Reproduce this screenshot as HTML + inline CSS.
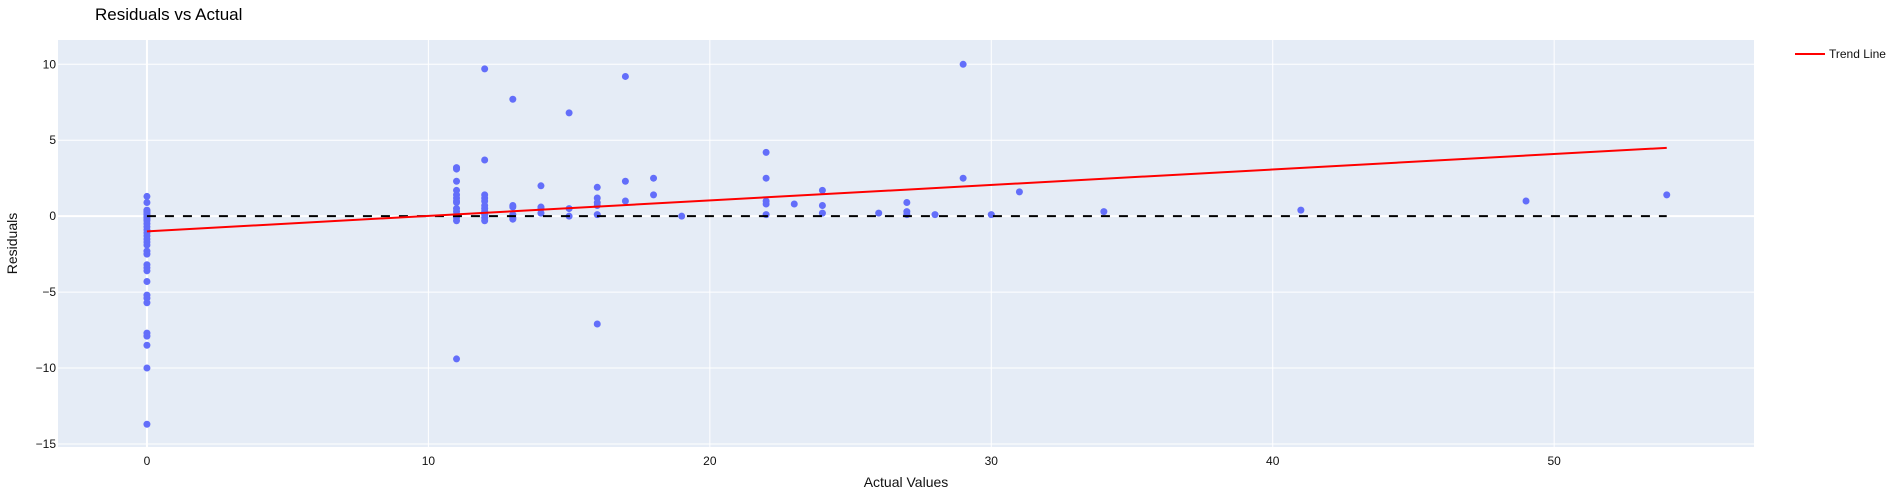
<!DOCTYPE html>
<html><head><meta charset="utf-8"><style>
html,body{margin:0;padding:0;background:#fff;}
svg{display:block;font-family:"Liberation Sans",sans-serif;}
</style></head><body>
<svg id="chart" width="1904" height="500"></svg>
<script>
const xsCat=[0,11,12,13,14,15,16,17,18,19,22,23,24,26,27,28,29,30,31,34,41,49,54];
const resid=[
[1.3,0.9,0.4,0.3,0.2,0.1,0,-0.1,-0.2,-0.3,-0.5,-0.7,-0.9,-1.1,-1.3,-1.5,-1.7,-1.9,-2.3,-2.5,-3.2,-3.4,-3.6,-4.3,-5.2,-5.4,-5.7,-7.7,-7.9,-8.5,-10,-13.7],
[3.2,3.1,2.3,1.7,1.4,1.2,1.0,0.9,0.5,0.3,0.1,-0.1,-0.3,-9.4],
[9.7,3.7,1.4,1.2,1.0,0.7,0.5,0.3,0.1,-0.1,-0.3],
[7.7,0.7,0.6,0.1,-0.1,-0.2],
[2.0,0.6,0.5,0.2],
[6.8,0.5,0],
[1.9,1.2,0.9,0.7,0.1,-7.1],
[9.2,2.3,1.0],
[2.5,1.4],
[0],
[4.2,2.5,1.0,0.8,0.1],
[0.8],
[1.7,0.7,0.2],
[0.2],
[0.9,0.3,0.1],
[0.1],
[10.0,2.5],
[0.1],
[1.6],
[0.3],
[0.4],
[1.0],
[1.4]];
const trendX=[0,54];
const trendY=[-1.0,4.5];
const xTicks=[0,10,20,30,40,50];
const yTicks=[10,5,0,-5,-10,-15];

const NS="http://www.w3.org/2000/svg";
const svg=document.getElementById('chart');
const L=58,R=1754,T=40,B=447;
const xMin=-3.16,xMax=57.1,yMin=-15.2,yMax=11.6;
const X=v=>L+(v-xMin)/(xMax-xMin)*(R-L);
const Y=v=>B-(v-yMin)/(yMax-yMin)*(B-T);
function mk(tag,attrs,parent){const e=document.createElementNS(NS,tag);for(const k in attrs)e.setAttribute(k,attrs[k]);(parent||svg).appendChild(e);return e;}

const bg=mk('rect',{x:L,y:T,width:R-L,height:B-T,fill:'#e5ecf6'});



xTicks.forEach(t=>{
  const g=mk('line',{x1:X(t),x2:X(t),y1:T,y2:B,stroke:'#fff','stroke-width':t===0?2:1});
  
  
  const l=mk('text',{x:X(t),y:B+18,'text-anchor':'middle','font-size':12,fill:'#111'});
  l.textContent=t;
  
  
});
yTicks.forEach(t=>{
  const g=mk('line',{x1:L,x2:R,y1:Y(t),y2:Y(t),stroke:'#fff','stroke-width':t===0?2:1});
  
  
  const l=mk('text',{x:L-2,y:Y(t)+4,'text-anchor':'end','font-size':12,fill:'#111'});
  l.textContent=t<0?'\u2212'+(-t):t;
  
  
});

xsCat.forEach((x,i)=>{
  resid[i].forEach(r=>{
    const c=mk('circle',{cx:X(x),cy:Y(r),r:3.5,fill:'#636efa'});
    
    
  });
});

const zl=mk('line',{x1:X(trendX[0]),x2:X(trendX[1]),y1:Y(0),y2:Y(0),stroke:'#000','stroke-width':2,'stroke-dasharray':'9,9'});



const tl=mk('line',{x1:X(trendX[0]),x2:X(trendX[1]),y1:Y(trendY[0]),y2:Y(trendY[1]),stroke:'#ff0000','stroke-width':2});



const title=mk('text',{x:95,y:20,'font-size':17,fill:'#000'});
title.textContent='Residuals vs Actual';



const xt=mk('text',{x:(L+R)/2,y:487,'text-anchor':'middle','font-size':14,fill:'#111'});
xt.textContent='Actual Values';



const yt=mk('text',{x:17,y:(T+B)/2,'text-anchor':'middle','font-size':14,fill:'#111',transform:`rotate(-90 17 ${(T+B)/2})`});
yt.textContent='Residuals';



const lg=mk('g',{});


mk('line',{x1:1795,x2:1825,y1:54,y2:54,stroke:'#ff0000','stroke-width':2},lg);
const lt=mk('text',{x:1829,y:58,'font-size':12,fill:'#111'},lg);
lt.textContent='Trend Line';
</script>
</body></html>
